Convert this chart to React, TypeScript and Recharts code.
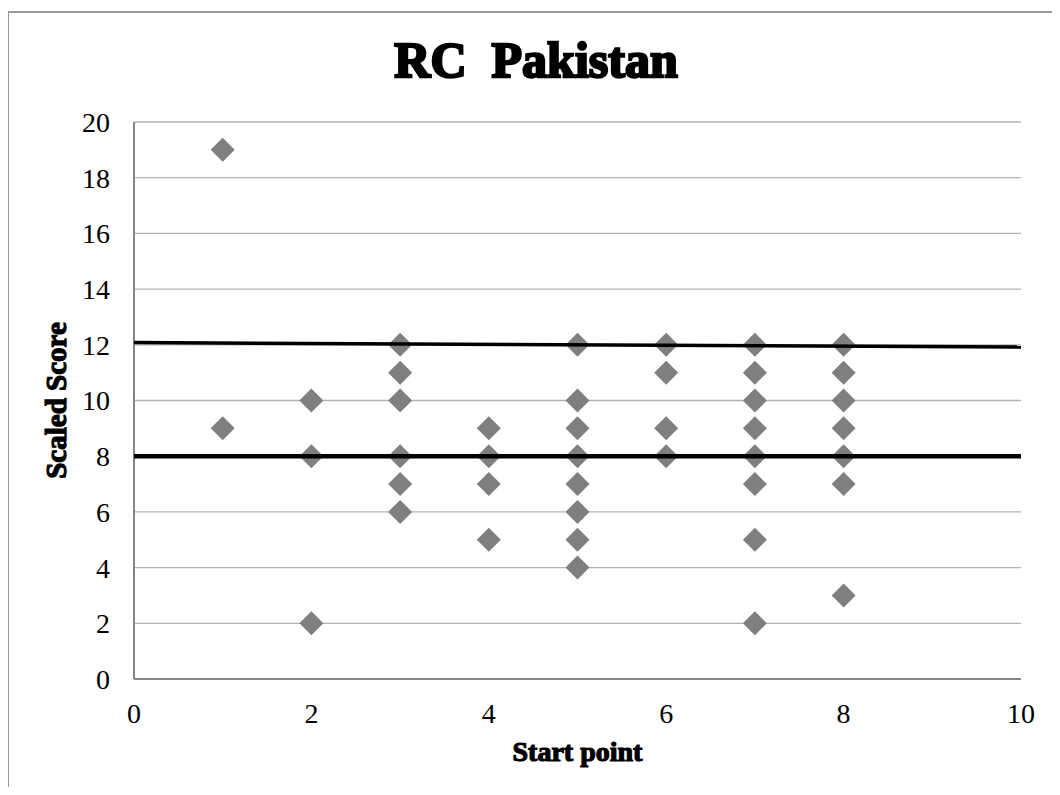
import React from "react";
import { ScatterChart, Scatter, XAxis, YAxis, CartesianGrid, Label } from "recharts";

// scores per start point
const startPoints = [1, 2, 3, 4, 5, 6, 7, 8];
const scaledScores = [
  [19, 9],
  [10, 8, 2],
  [12, 11, 10, 8, 7, 6],
  [9, 8, 7, 5],
  [12, 10, 9, 8, 7, 6, 5, 4],
  [12, 11, 9, 8],
  [12, 11, 10, 9, 8, 7, 5, 2],
  [12, 11, 10, 9, 8, 7, 3],
];

// the two black reference lines
const lineX = [0, 10];
const upperLineY = [12.08, 11.92];
const lowerLineY = [8, 8];

const xTicks = [0, 2, 4, 6, 8, 10];
const yTicks = [0, 2, 4, 6, 8, 10, 12, 14, 16, 18, 20];

const points = startPoints.flatMap((x, i) => scaledScores[i].map((y) => ({ x, y })));
const upperLine = lineX.map((x, i) => ({ x, y: upperLineY[i] }));
const lowerLine = lineX.map((x, i) => ({ x, y: lowerLineY[i] }));

const serif = "'Liberation Serif', 'Times New Roman', serif";

const Diamond = (props: any) => {
  const { cx, cy } = props;
  const r = 12;
  return (
    <polygon
      points={`${cx},${cy - r} ${cx + r},${cy} ${cx},${cy + r} ${cx - r},${cy}`}
      fill="#7f7f7f"
    />
  );
};

const NoDot = () => <g />;

export default function App() {
  return (
    <div style={{ position: "relative", width: 1060, height: 795, margin: -8, overflow: "hidden", background: "#fff" }}>
      <div
        style={{
          position: "absolute",
          left: 7,
          top: 11,
          width: 1100,
          height: 900,
          borderLeft: "2px solid #9a9a9a",
          borderTop: "2px solid #9a9a9a",
        }}
      />
      <svg style={{ position: "absolute", left: 0, top: 0 }} width={1060} height={100}>
        <text
          x={536}
          y={77}
          textAnchor="middle"
          fontFamily={serif}
          fontWeight="bold"
          fontSize={50}
          stroke="#000"
          strokeWidth={2.4}
          fill="#000"
          style={{ whiteSpace: "pre" }}
        >
          RC  Pakistan
        </text>
      </svg>
      <div style={{ position: "absolute", left: 0, top: 0 }}>
        <ScatterChart width={1060} height={795} margin={{ top: 122, right: 39, bottom: 34, left: 34 }}>
          <CartesianGrid horizontal vertical={false} stroke="#b3b3b3" strokeWidth={1.3} />
          <XAxis
            type="number"
            dataKey="x"
            domain={[0, 10]}
            ticks={xTicks}
            height={82}
            stroke="#868686"
            strokeWidth={2}
            tickLine={false}
            tickSize={0}
            tickMargin={24}
            tick={{ fill: "#000", fontFamily: serif, fontSize: 28 }}
          >
            <Label
              value="Start point"
              position="insideBottom"
              offset={0}
              fill="#000"
              stroke="#000"
              strokeWidth={1.2}
              fontFamily={serif}
              fontWeight="bold"
              fontSize={28}
            />
          </XAxis>
          <YAxis
            type="number"
            dataKey="y"
            domain={[0, 20]}
            ticks={yTicks}
            width={100}
            stroke="#868686"
            strokeWidth={2}
            tickLine={false}
            tickSize={0}
            tickMargin={24}
            tick={{ fill: "#000", fontFamily: serif, fontSize: 28 }}
          >
            <Label
              value="Scaled Score"
              position="insideLeft"
              angle={-90}
              offset={22}
              fill="#000"
              stroke="#000"
              strokeWidth={1.2}
              fontFamily={serif}
              fontWeight="bold"
              fontSize={29}
              style={{ textAnchor: "middle" }}
            />
          </YAxis>
          <Scatter data={points} shape={Diamond} isAnimationActive={false} />
          <Scatter
            data={upperLine}
            line={{ stroke: "#000", strokeWidth: 3.5 }}
            shape={NoDot}
            isAnimationActive={false}
          />
          <Scatter
            data={lowerLine}
            line={{ stroke: "#000", strokeWidth: 4.5 }}
            shape={NoDot}
            isAnimationActive={false}
          />
        </ScatterChart>
      </div>
    </div>
  );
}
